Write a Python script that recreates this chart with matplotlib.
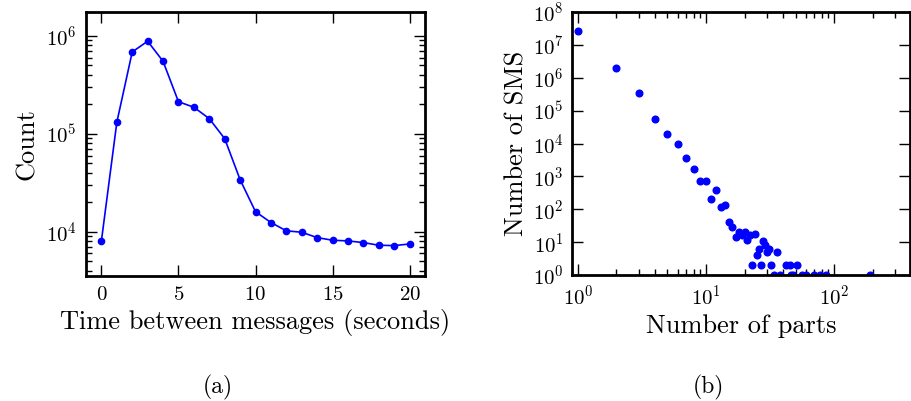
import matplotlib
matplotlib.use("Agg")
import matplotlib.pyplot as plt
import numpy as np

plt.rcParams['font.family'] = ['cmr10', 'DejaVu Serif']
plt.rcParams['mathtext.fontset'] = 'cm'
plt.rcParams['axes.formatter.use_mathtext'] = True
plt.rcParams['axes.unicode_minus'] = False

# (a) time between messages
time_sec = list(range(0, 21))
time_count = [8040, 131000, 687000, 885000, 552000, 213000, 187000, 143000, 89300,
              34000, 16000, 12400, 10200, 9860, 8690, 8170, 8040, 7730, 7260, 7200, 7480]

# (b) number of parts
parts = [1, 2, 3, 4, 5, 6, 7, 8, 9, 10, 11, 12, 13, 14, 15, 16, 17, 18, 19, 20,
         21, 22, 23, 24, 25, 26, 27, 28, 29, 30, 31, 32, 34, 36, 38, 42, 45, 46,
         48, 51, 56, 60, 70, 77, 87, 190]
sms = [27000000, 2000000, 340000, 54000, 20000, 9700, 3500, 1680, 740, 740,
       200, 385, 120, 135, 42, 29, 14, 20, 16, 21,
       12, 16, 2, 18, 4, 6, 2, 11, 8, 5, 6, 2, 1, 5, 1, 2, 2, 1,
       1, 2, 1, 1, 1, 1, 1, 1]

fig = plt.figure(figsize=(9.12, 4.01), dpi=100)
W, H = 912, 401

def box(l, r, t, b):
    return [l / W, 1 - b / H, (r - l) / W, (b - t) / H]

ax1 = fig.add_axes(box(86, 425, 12, 276))
ax2 = fig.add_axes(box(572, 910, 12, 275))

blue = '#0000ff'
ax1.plot(time_sec, time_count, '-o', color=blue, lw=1.2, ms=4.5, mec=blue)
ax1.set_yscale('log')
ax1.set_xlim(-1, 21)
ax1.set_ylim(3520, 1.76e6)
ax1.set_xticks([0, 5, 10, 15, 20])
ax1.set_xlabel('Time between messages (seconds)', fontsize=19, labelpad=4)
ax1.set_ylabel('Count', fontsize=19, labelpad=5)

ax2.plot(parts, sms, 'o', color=blue, ms=4.8, mec=blue, clip_on=True)
ax2.set_xscale('log')
ax2.set_yscale('log')
ax2.set_xlim(0.9, 390)
ax2.set_ylim(1, 1e8)
ax2.set_yticks([10.0 ** k for k in range(0, 9)])
ax2.set_xlabel('Number of parts', fontsize=19, labelpad=4)
ax2.set_ylabel('Number of SMS', fontsize=19, labelpad=3)

for ax in (ax1, ax2):
    for s in ax.spines.values():
        s.set_linewidth(2)
    ax.tick_params(which='both', direction='in', top=True, right=True, labelsize=15)
    ax.tick_params(which='major', length=8, width=1, pad=7)
    ax.tick_params(which='minor', length=4, width=1)

ax2.tick_params(axis='y', which='major', pad=6)

fig.text(218 / W, 1 - 387 / H, '(a)', fontsize=17, ha='center', va='center')
fig.text(708 / W, 1 - 387 / H, '(b)', fontsize=17, ha='center', va='center')

fig.savefig('out.png', dpi=100)
